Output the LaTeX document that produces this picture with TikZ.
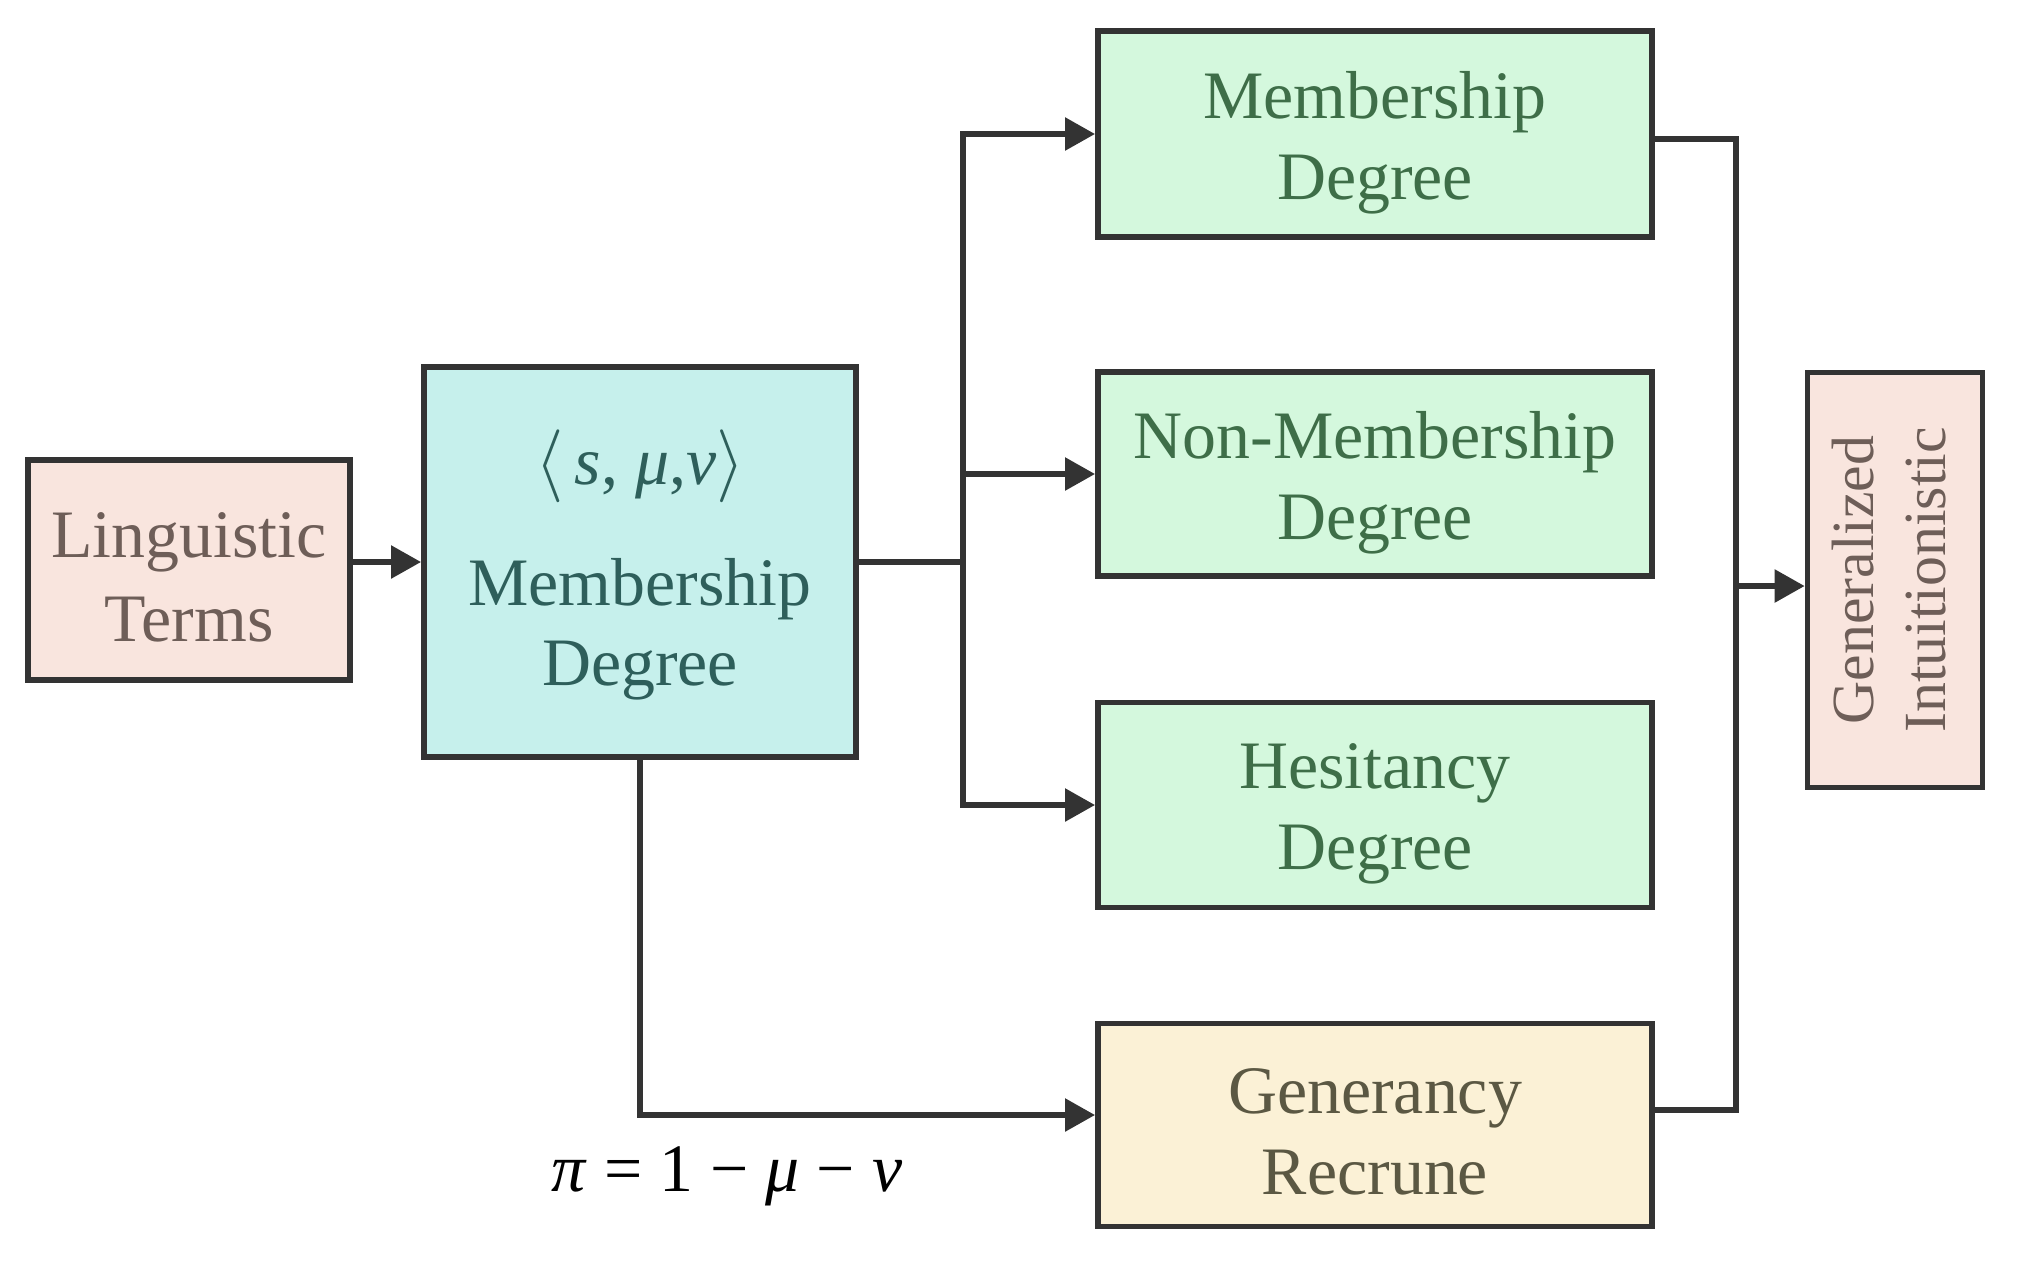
\documentclass[tikz,border=0pt]{standalone}
\usepackage{fontspec}
\setmainfont{Liberation Serif}
\usetikzlibrary{arrows.meta}
\definecolor{edge}{HTML}{333333}
\definecolor{pinkfill}{HTML}{F9E5DE}
\definecolor{pinktext}{HTML}{6E5E58}
\definecolor{bluefill}{HTML}{C6F0EC}
\definecolor{bluetext}{HTML}{2E5F5B}
\definecolor{greenfill}{HTML}{D4F8DD}
\definecolor{greentext}{HTML}{3E6E48}
\definecolor{yellowfill}{HTML}{FBF1D6}
\definecolor{yellowtext}{HTML}{5B5843}
\begin{document}
\begin{tikzpicture}[x=0.01cm,y=-0.01cm,
  box/.style={draw=edge, line width=1.6pt, inner sep=0pt},
  txt/.style={align=center, inner sep=0pt, font=\fontsize{19.3}{23}\selectfont},
  pinkbox/.style={box, fill=pinkfill},
  bluebox/.style={box, fill=bluefill},
  greenbox/.style={box, fill=greenfill, minimum width=5.54cm},
  yellowbox/.style={box, fill=yellowfill, minimum width=5.54cm},
  conn/.style={draw=edge, line width=1.6pt},
  arr/.style={conn, -{Triangle[length=0.3cm,width=0.32cm]}}]
\useasboundingbox (0,0) rectangle (2019,1269);
\fill[white] (0,0) rectangle (2019,1269);

\node[pinkbox, minimum width=3.22cm, minimum height=2.2cm,
  label={[txt, text=pinktext, font=\fontsize{19.3}{23.8}\selectfont, yshift=-0.07cm]center:{Linguistic\\Terms}}] (lt) at (189,570) {};
\node[bluebox, minimum width=4.32cm, minimum height=3.9cm,
  label={[txt, text=bluetext, yshift=-0.03cm]center:{$\langle$\,\textit{s}, \textit{μ},\textit{ν}$\rangle$\\[0.4cm]Membership\\Degree}}] (md) at (640,562) {};
\node[greenbox, minimum height=2.06cm,
  label={[txt, text=greentext, yshift=-0.09cm]center:{Membership\\Degree}}] (g1) at (1375,134) {};
\node[greenbox, minimum height=2.04cm,
  label={[txt, text=greentext, yshift=-0.09cm]center:{Non-Membership\\Degree}}] (g2) at (1375,474) {};
\node[greenbox, minimum height=2.05cm,
  label={[txt, text=greentext, yshift=-0.09cm]center:{Hesitancy\\Degree}}] (g3) at (1375,805) {};
\node[yellowbox, minimum height=2.03cm,
  label={[txt, text=yellowtext, yshift=-0.07cm]center:{Generancy\\Recrune}}] (yl) at (1375,1125) {};
\node[pinkbox, minimum width=1.75cm, minimum height=4.15cm,
  label={[txt, text=pinktext, font=\fontsize{17}{20.5}\selectfont]center:{\rotatebox{90}{\begin{tabular}{@{}c@{}}Generalized\\Intuitionistic\end{tabular}}}}] (gi) at (1895,580) {};
\node[txt, text=black] (pi) at (727,1176)
  {\textit{π} = 1 − \textit{μ} − \textit{ν}};

\coordinate (j) at (963,562);
\coordinate (c) at (1736,586);

\draw[arr] (lt.east |- md.west) -- (md.west);
\draw[conn] (md.east) -- (j);
\draw[arr] (j) |- (g1.west);
\draw[arr] (j) |- (g3.west);
\draw[arr] (j |- g2.west) -- (g2.west);
\draw[conn] ([yshift=-0.05cm]g1.east) -| (c);
\draw[conn] ([yshift=0.15cm]yl.east) -| (c);
\draw[arr] (c) -- (c -| gi.west);
\draw[arr] (md.south) |- ([yshift=0.1cm]yl.west);
\end{tikzpicture}
\end{document}
